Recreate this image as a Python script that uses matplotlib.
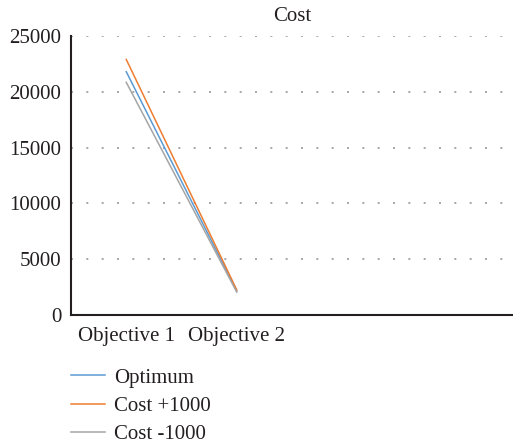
import matplotlib.pyplot as plt

categories = ["Objective 1", "Objective 2", "", ""]
series_names = ["Optimum", "Cost +1000", "Cost -1000"]
optimum = [21800, 2150]
cost_plus = [22900, 2250]
cost_minus = [20850, 2050]
yticks = [0, 5000, 10000, 15000, 20000, 25000]

colors = ["#5B9BD5", "#ED7D31", "#A5A5A5"]

plt.rcParams['font.family'] = ['Liberation Serif', 'DejaVu Serif']
fs = 15

fig = plt.figure(figsize=(5.13, 4.45), dpi=100)
ax = fig.add_axes([71 / 513, 1 - 315 / 445, 442 / 513, (315 - 36) / 445])

# lines span only the first two categories
x = list(range(len(optimum)))
for vals, name, c in zip([optimum, cost_plus, cost_minus], series_names, colors):
    ax.plot(x, vals, color=c, lw=1.1, label=name)

ax.set_xlim(-0.5, len(categories) - 0.5)
ax.set_ylim(0, 25000)
ax.set_xticks(range(len(categories)))
ax.set_xticklabels(categories)
ax.set_yticks(yticks)
ax.tick_params(axis='both', length=0, labelsize=fs, colors='#231f20')
ax.tick_params(axis='x', pad=9)
ax.tick_params(axis='y', pad=7)

ax.yaxis.grid(True, linestyle=(0, (1.2, 8)), color='#999999', lw=1.2)
ax.set_axisbelow(True)
for s in ['top', 'right']:
    ax.spines[s].set_visible(False)
ax.spines['left'].set_color('#231f20')
ax.spines['left'].set_linewidth(1.5)
ax.spines['bottom'].set_color('#231f20')
ax.spines['bottom'].set_linewidth(1.5)

ax.set_title("Cost", fontsize=fs, pad=11, color='#231f20')

fig.legend(loc='upper left', bbox_to_anchor=(71 / 513, 1 - 368 / 445), frameon=False,
           borderpad=0, borderaxespad=0, handlelength=1.65, handletextpad=0.4,
           labelspacing=0.42, fontsize=fs, labelcolor='#231f20')

fig.savefig("out.png", dpi=100)
